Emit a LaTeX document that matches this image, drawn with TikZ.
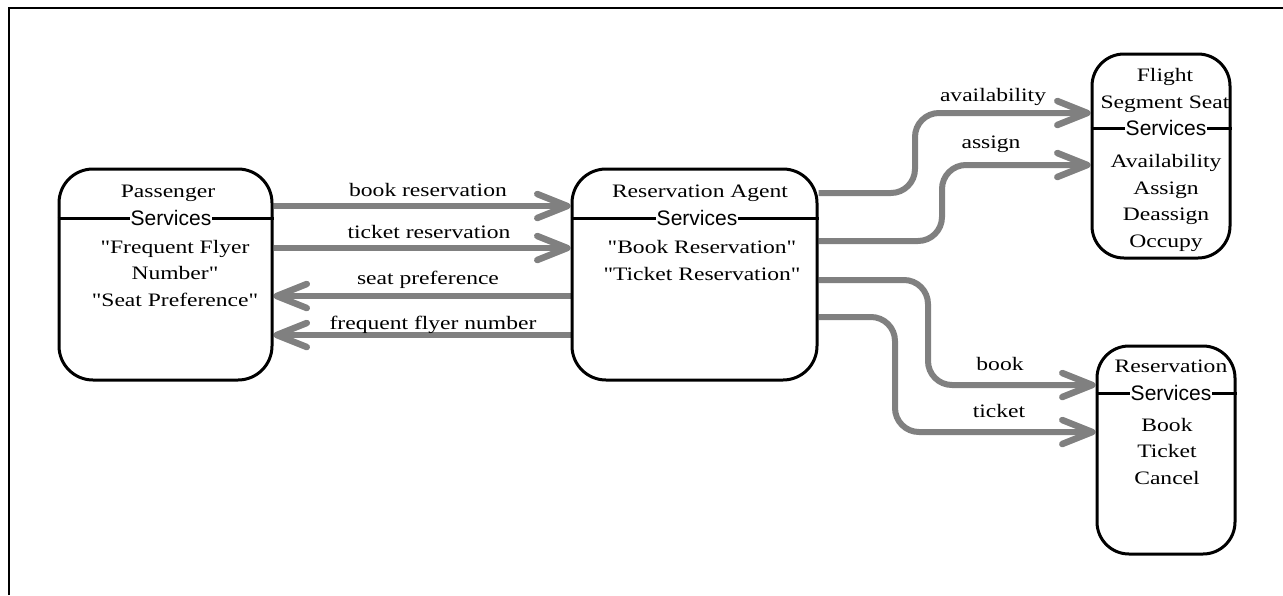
\documentclass[tikz,border=0pt]{standalone}
\usepackage{fontspec}
\setmainfont{Liberation Serif}[FakeStretch=1.24, Ligatures=TeXOff]
\setsansfont{Liberation Sans}
\usetikzlibrary{arrows.meta}
\pgfdeclarelayer{front}
\pgfsetlayers{main,front}
\begin{document}
\begin{tikzpicture}[x=1pt,y=-1pt,
  svcbox/.style={draw, line width=3pt, rounded corners=34pt, inner sep=0pt},
  % multi-line texts are placed by the baseline of their last line
  txt/.style={font=\fontsize{19}{26.5}\selectfont, align=center, inner sep=0pt, anchor=base},
  svc/.style={font=\sffamily\fontsize{21}{25}\selectfont, fill=white, inner sep=0.5pt},
  divider/.style={line width=3pt},
  flow/.style={draw=gray, line width=6pt, rounded corners=24pt,
    -{Straight Barb[length=30pt,width=24pt,line width=6.5pt,round]}},
  lbl/.style={font=\fontsize{19}{24}\selectfont, anchor=base, inner sep=0pt}]
\useasboundingbox (0,0) rectangle (1283,595);

% outer frame
\draw[line width=2.2pt] (9,595) -- (9,8) -- (1283,8);

% service boxes, drawn on top of their texts
\begin{pgfonlayer}{front}
\node[svcbox, minimum width=213pt, minimum height=211pt] (pax) at (165.5,274.5) {};
\node[svcbox, minimum width=245pt, minimum height=211pt] (agent) at (694.5,274.5) {};
\node[svcbox, rounded corners=32pt, minimum width=138pt, minimum height=204pt] (flight) at (1161,156) {};
\node[svcbox, rounded corners=32pt, minimum width=138pt, minimum height=208pt] (res) at (1166,450) {};
\end{pgfonlayer}

% dividers under the "Services" headings
\draw[divider] (pax.west |- 0,218) -- (pax.east |- 0,218);
\draw[divider] (agent.west |- 0,218) -- (agent.east |- 0,218);
\draw[divider] (flight.west |- 0,128) -- (flight.east |- 0,128);
\draw[divider] (res.west |- 0,393) -- (res.east |- 0,393);

% Passenger Services
\node[txt] (paxT) at (168,197) {Passenger};
\node[svc] (paxS) at (171,218) {Services};
\node[txt] (paxB) at (175,306) {"Frequent Flyer\\Number"\\"Seat Preference"};

% Reservation Agent Services
\node[txt] (agentT) at (700,197) {Reservation Agent};
\node[svc] (agentS) at (697,218) {Services};
\node[txt] (agentB) at (702,280) {"Book Reservation"\\"Ticket Reservation"};

% Flight Segment Seat Services
\node[txt] (flightT) at (1165,108) {Flight\\Segment Seat};
\node[svc] (flightS) at (1166,128) {Services};
\node[txt] (flightB) at (1166,247) {Availability\\Assign\\Deassign\\Occupy};

% Reservation Services
\node[txt] (resT) at (1171,372) {Reservation};
\node[svc] (resS) at (1171,393) {Services};
\node[txt] (resB) at (1167,484) {Book\\Ticket\\Cancel};

% flows between passenger and agent
\draw[flow] (pax.east |- 0,206) -- (agent.west |- 0,206);
\draw[flow] (pax.east |- 0,248) -- (agent.west |- 0,248);
\draw[flow] (agent.west |- 0,296) -- (pax.east |- 0,296);
\draw[flow] (agent.west |- 0,335) -- (pax.east |- 0,335);
\node[lbl] (l1) at (428,196) {book reservation};
\node[lbl] (l2) at (429,238) {ticket reservation};
\node[lbl] (l3) at (428,284) {seat preference};
\node[lbl] (l4) at (433,329) {frequent flyer number};

% flows from agent to seat and reservation services
\draw[flow] (agent.east |- 0,193) -| (915,113) -- (flight.west |- 0,113);
\draw[flow] (agent.east |- 0,241) -| (942,165) -- (flight.west |- 0,165);
\draw[flow] (agent.east |- 0,280) -| (928,385) -- (res.west |- 0,385);
\draw[flow] (agent.east |- 0,317) -| (895,432) -- (res.west |- 0,432);
\node[lbl] (l5) at (993,101) {availability};
\node[lbl] (l6) at (991,148) {assign};
\node[lbl] (l7) at (1000,370) {book};
\node[lbl] (l8) at (999,417) {ticket};
\end{tikzpicture}
\end{document}
